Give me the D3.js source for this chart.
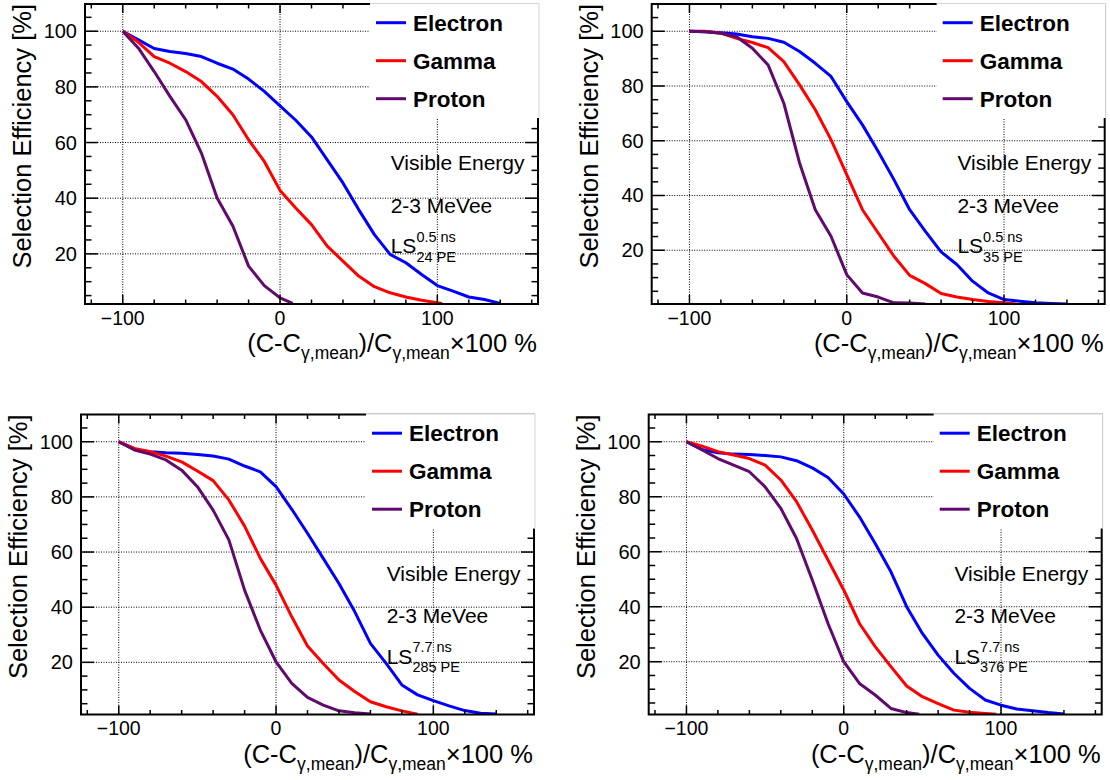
<!DOCTYPE html>
<html>
<head>
<meta charset="utf-8">
<script src="https://cdn.jsdelivr.net/npm/d3@7"></script>
<style>
  body { margin: 0; background: #fff; }
  svg { display: block; }
  text { font-family: "Liberation Sans", Arial, Helvetica, sans-serif; fill: #000; }
</style>
</head>
<body>
<svg id="chart" width="1110" height="780"></svg>
<script>
// axis ticks
const xTicks = [-100, 0, 100];
const yTicks = [20, 40, 60, 80, 100];
const seriesNames = ["Electron", "Gamma", "Proton"];

// cut labels per panel
const timeCuts = ["0.5", "0.5", "7.7", "7.7"];
const peCuts = ["24", "35", "285", "376"];

// efficiency curves, [x, efficiency %]
const electron24 = [[-100,100],[-90,96.9],[-80,93.8],[-70,92.7],[-60,92.0],[-50,90.9],[-40,88.5],[-30,86.4],[-20,82.8],[-10,78.4],[0,73.2],[10,68],[20,62],[30,53.8],[40,45.5],[50,35.9],[60,26.9],[70,19.8],[80,16.8],[90,12.6],[100,8.6],[110,6.6],[120,4.5],[130,3.6],[140,2.2]];
const gamma24 = [[-100,100],[-90,96],[-80,90.9],[-70,88.5],[-60,85.5],[-50,81.9],[-40,76.6],[-30,70],[-20,61],[-10,53.2],[0,42.8],[10,36.5],[20,30.5],[30,22.8],[40,17.4],[50,12],[60,8.2],[70,6],[80,4.5],[90,3.3],[103,2.2]];
const proton24 = [[-100,100],[-90,93.9],[-80,85.5],[-70,76.6],[-60,68.2],[-50,56.2],[-40,40.1],[-30,30],[-20,15.6],[-10,8.6],[0,4.2],[8,2.2]];

const electron35 = [[-100,100],[-90,99.8],[-80,99.5],[-70,99],[-60,98],[-50,97.4],[-40,96],[-30,92.6],[-20,88.3],[-10,83.5],[0,74.3],[10,65.8],[20,56.1],[30,45.8],[40,34.8],[50,26.9],[60,19.4],[70,14.8],[80,8.7],[90,4.4],[100,2],[110,1.4],[120,0.8],[130,0.55],[140,0.4]];
const gamma35 = [[-100,100],[-90,100],[-80,99.3],[-70,97.4],[-60,95.9],[-50,94],[-40,88.9],[-30,80.4],[-20,71.3],[-10,60.4],[0,47.6],[10,34.8],[20,26.3],[30,17.8],[40,10.8],[50,7.8],[60,4.2],[70,2.9],[80,2.0],[90,1.3],[100,0.8],[108,0.4]];
const proton35 = [[-100,100],[-90,99.8],[-80,99.3],[-70,98],[-60,93.8],[-50,87.7],[-40,73.7],[-30,51.9],[-20,34.8],[-10,25.1],[0,11.1],[10,4.4],[20,2.9],[30,0.8],[40,0.7],[50,0.4]];

const electron285 = [[-100,100],[-90,97.2],[-80,96.4],[-70,96],[-60,95.8],[-50,95.4],[-40,94.8],[-30,93.7],[-20,91.2],[-10,89.1],[0,83.7],[10,75.5],[20,66.8],[30,57.7],[40,48.6],[50,38.4],[60,26.9],[70,19.6],[80,11.8],[90,8.2],[100,6.1],[110,4.2],[120,2.5],[130,1.5],[140,1.3]];
const gamma285 = [[-100,100],[-90,97.6],[-80,96.4],[-70,94.8],[-60,92.7],[-50,89.4],[-40,85.9],[-30,78.9],[-20,69.4],[-10,57.7],[0,48],[10,36.5],[20,25.9],[30,19.6],[40,13.6],[50,9.4],[60,5.7],[70,3.9],[80,2.4],[90,1.2]];
const proton285 = [[-100,100],[-90,97],[-80,95.5],[-70,93.4],[-60,89.7],[-50,83.7],[-40,75.2],[-30,64.4],[-20,46.2],[-10,31.7],[0,20.2],[10,12.4],[20,7.3],[30,4.5],[40,2.4],[50,1.7],[60,1.3]];

const electron376 = [[-100,100],[-90,97.2],[-80,96],[-70,95.5],[-60,95.4],[-50,95],[-40,94.5],[-30,93.1],[-20,90.5],[-10,87],[0,81],[10,72.7],[20,63],[30,52.7],[40,40],[50,30.3],[60,22.4],[70,15.8],[80,10.3],[90,6.1],[100,4.2],[110,2.8],[120,2.2],[130,1.5],[140,1.0]];
const gamma376 = [[-100,100],[-90,98.4],[-80,96.4],[-70,95.2],[-60,93.9],[-50,91.5],[-40,86.1],[-30,78.2],[-20,67.9],[-10,57],[0,46.1],[10,33.9],[20,25.5],[30,18.2],[40,11.2],[50,7.3],[60,4.8],[70,2.4],[80,1.6],[90,1.2],[97,0.9]];
const proton376 = [[-100,100],[-90,97],[-80,93.9],[-70,91.5],[-60,89.1],[-50,83.6],[-40,75.8],[-30,64.8],[-20,49.7],[-10,33.9],[0,20],[10,12.1],[20,7.9],[30,3],[40,1.5],[48,0.9]];

const colors = ["#0000ff", "#ff0000", "#610a6e"];

// frame placement of the four pads
const W = 453, H = 300;
const pads = [
  { left: 85,    top: 4,     series: [electron24, gamma24, proton24] },
  { left: 651.7, top: 4,     series: [electron35, gamma35, proton35] },
  { left: 81,    top: 414.5, series: [electron285, gamma285, proton285] },
  { left: 648.7, top: 414.5, series: [electron376, gamma376, proton376] }
];

const svg = d3.select("#chart");
const fmt = d3.format("d");

pads.forEach((p, i) => {
  const L = p.left, T = p.top, R = L + W, B = T + H;
  const all = p.series.flat();

  // ROOT-like auto range: 10% margins
  const xmin = d3.min(all, d => d[0]), xmax = d3.max(all, d => d[0]);
  const ymin = d3.min(all, d => d[1]), ymax = d3.max(all, d => d[1]);
  const dx = xmax - xmin, dy = ymax - ymin;
  const yLo = ymin - 0.1 * dy < 0 ? 0.9 * ymin : ymin - 0.1 * dy;

  const x = d3.scaleLinear().domain([xmin - 0.1 * dx, xmax + 0.1 * dx]).range([L, R]);
  const y = d3.scaleLinear().domain([yLo, ymax + 0.1 * dy]).range([B, T]);

  const g = svg.append("g");

  g.append("clipPath").attr("id", "clip" + i)
    .append("rect").attr("x", L).attr("y", T).attr("width", W).attr("height", H);

  // grid
  const grid = g.append("g")
    .attr("stroke", "#000").attr("stroke-width", 1).attr("stroke-dasharray", "1,1.5");
  grid.selectAll(".gx").data(xTicks).enter().append("line")
    .attr("x1", d => x(d)).attr("x2", d => x(d)).attr("y1", T).attr("y2", B);
  grid.selectAll(".gy").data(yTicks).enter().append("line")
    .attr("y1", d => y(d)).attr("y2", d => y(d)).attr("x1", L).attr("x2", R);

  // curves
  const line = d3.line().x(d => x(d[0])).y(d => y(d[1]));
  g.append("g").attr("clip-path", "url(#clip" + i + ")")
    .selectAll("path").data(p.series).enter().append("path")
    .attr("d", line)
    .attr("fill", "none")
    .attr("stroke", (d, k) => colors[k])
    .attr("stroke-width", 3)
    .attr("stroke-linejoin", "round");

  // frame + ticks on all four sides, pointing inward
  const ax = g.append("g").attr("stroke", "#000");
  const xMinor = d3.range(-120, 161, 20).filter(v => xTicks.indexOf(v) < 0);
  const yMinor = d3.range(5, 110, 5).filter(v => yTicks.indexOf(v) < 0 && v > y.domain()[0]);
  const xt = xTicks.map(v => [v, 9]).concat(xMinor.map(v => [v, 4.5]));
  const yt = yTicks.map(v => [v, 13]).concat(yMinor.map(v => [v, 6.5]));
  ax.selectAll(".xb").data(xt).enter().append("line").attr("stroke-width", 1.5)
    .attr("x1", d => x(d[0])).attr("x2", d => x(d[0])).attr("y1", B).attr("y2", d => B - d[1]);
  ax.selectAll(".xt").data(xt).enter().append("line").attr("stroke-width", 1.5)
    .attr("x1", d => x(d[0])).attr("x2", d => x(d[0])).attr("y1", T).attr("y2", d => T + d[1]);
  ax.selectAll(".yl").data(yt).enter().append("line").attr("stroke-width", 1.5)
    .attr("y1", d => y(d[0])).attr("y2", d => y(d[0])).attr("x1", L).attr("x2", d => L + d[1]);
  ax.selectAll(".yr").data(yt).enter().append("line").attr("stroke-width", 1.5)
    .attr("y1", d => y(d[0])).attr("y2", d => y(d[0])).attr("x1", R).attr("x2", d => R - d[1]);
  g.append("rect").attr("x", L).attr("y", T).attr("width", W).attr("height", H)
    .attr("fill", "none").attr("stroke", "#000").attr("stroke-width", 2);

  // tick labels
  g.selectAll(".xl").data(xTicks).enter().append("text")
    .attr("x", d => x(d)).attr("y", B + 20.5)
    .attr("text-anchor", "middle").attr("font-size", 19.5)
    .text(d => fmt(d));
  g.selectAll(".ylab").data(yTicks).enter().append("text")
    .attr("x", L - 8).attr("y", d => y(d)).attr("dy", "0.35em")
    .attr("text-anchor", "end").attr("font-size", 20)
    .text(d => fmt(d));

  // axis titles
  g.append("text")
    .attr("transform", `translate(${L - 54},${T}) rotate(-90)`)
    .attr("text-anchor", "end").attr("font-size", 25.5)
    .text("Selection Efficiency [%]");

  const xt2 = g.append("text").attr("x", R - 1).attr("y", B + 48)
    .attr("text-anchor", "end").attr("font-size", 25.5);
  xt2.append("tspan").text("(C-C");
  xt2.append("tspan").attr("dy", 7).attr("font-size", 17.5).text("\u03b3,mean");
  xt2.append("tspan").attr("dy", -7).text(")/C");
  xt2.append("tspan").attr("dy", 7).attr("font-size", 17.5).text("\u03b3,mean");
  xt2.append("tspan").attr("dy", -7).text("\u00d7100 %");

  // legend box (covers frame corner like the original)
  const lg = g.append("g");
  const lx = L + 285, lw = W - 284, lh = 115;
  lg.append("rect").attr("x", lx).attr("y", T - 1)
    .attr("width", lw).attr("height", lh).attr("fill", "#fff");
  lg.append("path")
    .attr("d", `M${lx},${T - 0.5}H${lx + lw}V${T - 1 + lh}`)
    .attr("fill", "none").attr("stroke", "#d4d4d4").attr("stroke-width", 1);
  seriesNames.forEach((name, k) => {
    const ly = T + 18.7 + k * 38;
    lg.append("line").attr("x1", L + 291).attr("x2", L + 321)
      .attr("y1", ly).attr("y2", ly)
      .attr("stroke", colors[k]).attr("stroke-width", 3);
    lg.append("text").attr("x", L + 328).attr("y", ly).attr("dy", "0.35em")
      .attr("font-size", 22.5).attr("font-weight", "bold").text(name);
  });

  // annotation
  const ax0 = L + 305.7;
  g.append("text").attr("x", ax0).attr("y", T + 166).attr("font-size", 21).text("Visible Energy");
  g.append("text").attr("x", ax0).attr("y", T + 208.7).attr("font-size", 21).text("2-3 MeVee");
  const ls = g.append("text").attr("x", ax0).attr("y", T + 249.3).attr("font-size", 21).text("LS");
  const lsw = ls.node().getComputedTextLength();
  g.append("text").attr("x", ax0 + lsw).attr("y", T + 237.7).attr("font-size", 14.5)
    .text(timeCuts[i] + " ns");
  g.append("text").attr("x", ax0 + lsw).attr("y", T + 257.7).attr("font-size", 14.5)
    .text(peCuts[i] + " PE");
});
</script>
</body>
</html>
